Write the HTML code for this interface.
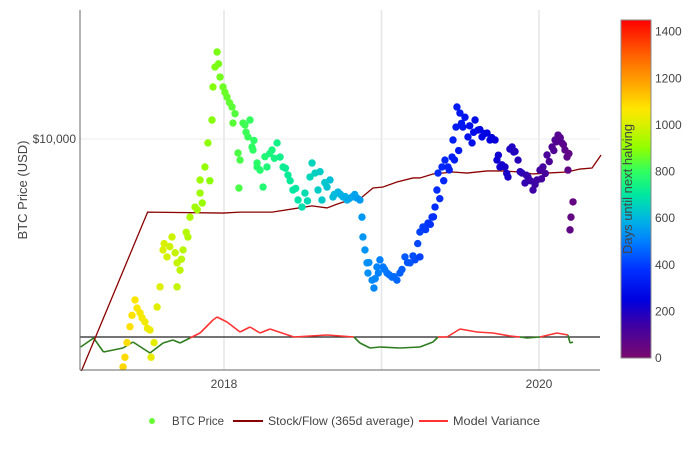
<!DOCTYPE html>
<html><head><meta charset="utf-8"><style>
body{margin:0;background:#fff;}
svg text{font-family:"Liberation Sans",sans-serif;fill:#444;}
</style></head><body>
<svg id="chart" width="700" height="450" viewBox="0 0 700 450" xmlns="http://www.w3.org/2000/svg">
<defs>
<linearGradient id="cbgrad" x1="0" y1="1" x2="0" y2="0">
<stop offset="0" stop-color="#7a0a6e"/><stop offset="0.103" stop-color="#3a00a8"/><stop offset="0.172" stop-color="#0000e0"/><stop offset="0.262" stop-color="#0030ff"/><stop offset="0.345" stop-color="#0080ff"/><stop offset="0.414" stop-color="#00b8e0"/><stop offset="0.483" stop-color="#00e8a0"/><stop offset="0.552" stop-color="#30ff60"/><stop offset="0.621" stop-color="#90ff00"/><stop offset="0.69" stop-color="#d8f000"/><stop offset="0.738" stop-color="#ffe600"/><stop offset="0.828" stop-color="#ff9900"/><stop offset="0.897" stop-color="#ff6000"/><stop offset="1" stop-color="#ff0000"/>
</linearGradient>
</defs>
<g id="grid"></g>
<g id="marks"></g>
<g id="axes"></g>
<g>
<rect x="621" y="20" width="30" height="338" fill="url(#cbgrad)" stroke="#888" stroke-width="1"/>
<g id="cbticks"></g>
<text transform="translate(632,189) rotate(-90)" text-anchor="middle" font-size="13">Days until next halving</text>
</g>
<text transform="translate(27,190) rotate(-90)" text-anchor="middle" font-size="13">BTC Price (USD)</text>
<g>
<g><circle cx="152" cy="421" r="3" fill="#66ff33"/><text x="172" y="425" font-size="12" textLength="52" lengthAdjust="spacingAndGlyphs">BTC Price</text></g>
<g><line x1="233" y1="421" x2="263" y2="421" stroke="#8b0000" stroke-width="2"/><text x="268" y="425" font-size="12" textLength="146" lengthAdjust="spacingAndGlyphs">Stock/Flow (365d average)</text></g>
<g><line x1="419" y1="421" x2="448" y2="421" stroke="#ff3333" stroke-width="2"/><text x="453" y="425" font-size="12" textLength="87" lengthAdjust="spacingAndGlyphs">Model Variance</text></g>
</g>
</svg>
<script>
const priceDates=[
2017.359,2017.371,2017.403,2017.435,2017.467,2017.498,2017.530,2017.537,2017.575,2017.594,
2017.613,2017.638,2017.670,2017.702,2017.721,2017.702,2017.740,2017.771,2017.784,2017.816,
2017.848,2017.848,2017.879,2017.898,2017.924,2017.930,2017.943,2017.956,2017.975,2017.994,
2018.019,2018.051,2018.057,2018.089,2018.095,2018.102,2018.121,2018.152,2018.184,2018.210,
2018.133,2018.165,2018.178,2018.210,2018.229,2018.248,2018.273,2018.305,2018.337,2018.356,
2018.375,2018.406,2018.438,2018.470,2018.495,2018.514,2018.546,2018.559,2018.578,2018.597,
2018.622,2018.654,2018.673,2018.692,2018.724,2018.756,2018.781,2018.813,2018.844,2018.863,
2018.876,2018.882,2018.895,2018.908,2018.914,2018.940,2018.952,2018.971,2018.990,2019.010,
2019.035,2019.067,2019.098,2019.117,2019.149,2019.181,2019.213,2019.244,2019.244,2019.263,
2019.295,2019.321,2019.340,2019.352,2019.359,2019.384,2019.403,2019.422,2019.448,2019.454,
2019.473,2019.479,2019.498,2019.517,2019.549,2019.575,2019.594,2019.613,2019.638,2019.670,
2019.689,2019.721,2019.733,2019.752,2019.784,2019.803,2019.829,2019.848,2019.867,2019.892,
2019.911,2019.930,2019.962,2019.987,2020.006,2020.025,2020.051,2020.083,2020.102,2020.121,
2020.146,2020.165,2020.178,2020.184,2020.216,2020.203,2020.197,
2017.384,2017.416,2017.448,2017.480,2017.514,2017.556,2017.620,2017.656,2017.690,2017.730,
2017.760,2017.830,2017.862,2017.910,2017.965,2018.006,2018.035,2018.070,2018.140,2018.190,
2018.260,2018.290,2018.320,2018.390,2018.420,2018.455,2018.530,2018.610,2018.640,2018.700,
2018.740,2018.770,2018.795,2018.830,2018.920,2018.960,2018.980,2019.020,2019.050,2019.080,
2019.130,2019.165,2019.200,2019.230,2019.280,2019.310,2019.330,2019.370,2019.395,2019.430,
2019.463,2019.490,2019.508,2019.530,2019.560,2019.585,2019.625,2019.655,2019.700,2019.742,
2019.765,2019.795,2019.815,2019.840,2019.880,2019.920,2019.945,2019.975,2020.016,2020.040,
2020.065,2020.094,2020.110,2020.135,2020.155,2020.190];
const priceValues=[
1930,2070,2580,3130,2850,2670,2520,2070,2975,3440,
4490,4270,4930,4090,3880,3440,4490,4930,5690,6120,
6770,7440,8170,9720,11470,14560,16810,18740,15640,14560,
13540,12600,11220,9040,7020,8590,11220,10150,9240,8170,
11060,11470,9440,8410,7990,7070,8170,9240,9720,8780,
8170,7710,6920,6440,6120,6770,7600,8410,7820,6920,
6440,7070,7440,6580,6820,6580,6440,6580,6530,6440,
5690,4930,4490,4090,3800,3610,3410,3970,4180,3970,
3800,3690,3610,3800,4270,4090,4180,5110,4270,5300,
5450,5690,6120,6920,7820,8170,8590,8170,8780,9930,
10900,12600,12060,10900,10150,9720,11470,10670,10150,10440,
9930,9930,8590,8170,8170,7600,9440,9140,8590,7820,
7280,7600,6920,7440,7990,8170,8910,9440,9930,10290,
9720,9240,8780,7990,6350,5690,5190,
2300,2800,2950,2750,2550,2300,4700,4600,4400,4200,
5100,6000,6300,7400,17200,14000,13000,12000,10500,9900,
8800,9000,8700,8100,7400,7000,6400,7900,7300,6700,
6700,6600,6500,6700,4100,3650,3800,3900,3750,3700,
3900,4100,4300,4700,5200,5400,5700,6500,7400,8000,
8600,9200,11200,11700,11000,10500,10700,10400,10100,8900,
8300,7800,9300,9100,7900,7700,7400,7200,7500,7800,
8500,9200,9800,10100,9600,9000];
const s2fDates=[2017.09,2017.515,2017.994,2018.102,2018.305,2018.476,2018.559,2018.654,2018.718,2018.819,2018.863,2018.946,2019.010,2019.098,2019.200,2019.244,2019.327,2019.454,2019.543,2019.670,2019.771,2019.879,2019.962,2020.051,2020.178,2020.260,2020.337,2020.394];
const s2fValues=[1850,5900,5860,5900,5900,6080,6170,6080,6250,6490,6490,7020,7070,7330,7550,7550,7770,7880,7820,7940,7940,7880,7770,7820,7880,8050,8110,8910];
const varDates=[2017.09,2017.172,2017.235,2017.359,2017.422,2017.530,2017.613,2017.676,2017.721,2017.784,2017.848,2017.930,2017.956,2018.019,2018.102,2018.165,2018.229,2018.292,2018.444,2018.654,2018.825,2018.863,2018.927,2018.990,2019.117,2019.244,2019.327,2019.359,2019.416,2019.498,2019.606,2019.708,2019.816,2019.879,2019.924,2020.006,2020.114,2020.184,2020.197,2020.216];
const varValues=[-0.10,-0.01,-0.15,-0.11,-0.05,-0.16,-0.06,-0.03,-0.06,-0.01,0.04,0.17,0.20,0.15,0.05,0.10,0.04,0.08,0.00,0.02,0.00,-0.06,-0.11,-0.10,-0.11,-0.10,-0.05,0.00,0.00,0.08,0.05,0.04,0.01,0.00,-0.01,0.00,0.04,0.02,-0.06,-0.05];
const cbTicks=[0,200,400,600,800,1000,1200,1400];
const xTicks=[2018,2019,2020];
const xTickLabels=["2018","","2020"];
const yTicks=[10000];
const yTickLabels=["$10,000"];

const X0=80,X1=600,Y0=10,Y1=370;
const xs=t=>224+(t-2018)*157.5;
const ys=p=>139-319*(Math.log10(p)-4);
const vy=v=>337-v*100;
const cb=d=>358-d*(338/1450);
const halving=2020.36;
const NS="http://www.w3.org/2000/svg";
function mk(tag,attrs,parent){const e=document.createElementNS(NS,tag);for(const k in attrs)e.setAttribute(k,attrs[k]);parent.appendChild(e);return e;}
const stops=[[0,[122,10,110]],[150,[58,0,168]],[250,[0,0,224]],[380,[0,48,255]],[500,[0,128,255]],[600,[0,184,224]],[700,[0,232,160]],[800,[48,255,96]],[900,[144,255,0]],[1000,[216,240,0]],[1070,[255,230,0]],[1200,[255,153,0]],[1300,[255,96,0]],[1450,[255,0,0]]];
function color(d){d=Math.max(0,Math.min(1450,d));for(let i=1;i<stops.length;i++){if(d<=stops[i][0]){const a=stops[i-1],b=stops[i],f=(d-a[0])/(b[0]-a[0]);const c=a[1].map((v,j)=>Math.round(v+(b[1][j]-v)*f));return `rgb(${c})`;}}return "red";}

const grid=document.getElementById('grid'),marks=document.getElementById('marks'),axes=document.getElementById('axes');
xTicks.forEach((t,i)=>{
 const g=mk('line',{x1:xs(t),x2:xs(t),y1:Y0,y2:Y1,stroke:'#e6e6e6','stroke-width':1.5},grid);
 
 
 if(xTickLabels[i]){const tx=mk('text',{x:xs(t),y:388,'text-anchor':'middle','font-size':12},axes);tx.textContent=xTickLabels[i];
 
 }
});
yTicks.forEach((p,i)=>{
 const g=mk('line',{x1:X0,x2:X1,y1:ys(p),y2:ys(p),stroke:'#eeeeee','stroke-width':1},grid);
 
 
 const tx=mk('text',{x:76,y:ys(p)+4,'text-anchor':'end','font-size':12},axes);tx.textContent=yTickLabels[i];
 
 
});
const base=mk('line',{x1:X0,x2:X1,y1:vy(0),y2:vy(0),stroke:'#222','stroke-width':1.2},marks);


for(let i=1;i<varDates.length;i++){
 const avg=(varValues[i]+varValues[i-1])/2;
 const s=mk('line',{x1:xs(varDates[i-1]),y1:vy(varValues[i-1]),x2:xs(varDates[i]),y2:vy(varValues[i]),stroke:avg>=0?'#ff3333':'#2e7d1e','stroke-width':1.6},marks);
 
 
}
const s2f=mk('polyline',{points:s2fDates.map((t,i)=>xs(t)+','+ys(s2fValues[i])).join(' '),fill:'none',stroke:'#8b0000','stroke-width':1.3},marks);


priceDates.forEach((t,i)=>{
 const c=mk('circle',{cx:xs(t),cy:ys(priceValues[i]),r:3.7,fill:color((halving-t)*365.25)},marks);
 
 
});
const clip=mk('rect',{x:0,y:Y1+1,width:610,height:8,fill:'#fff'},axes);


const xl=mk('line',{x1:X0,x2:X1,y1:Y1,y2:Y1,stroke:'#666','stroke-width':1},axes);


const yl=mk('line',{x1:X0,x2:X0,y1:Y0,y2:Y1,stroke:'#666','stroke-width':1},axes);


const cbt=document.getElementById('cbticks');
cbTicks.forEach(d=>{
 const tx=mk('text',{x:655,y:cb(d)+4,'font-size':12},cbt);tx.textContent=d;
 
 
});
</script>
</body></html>
